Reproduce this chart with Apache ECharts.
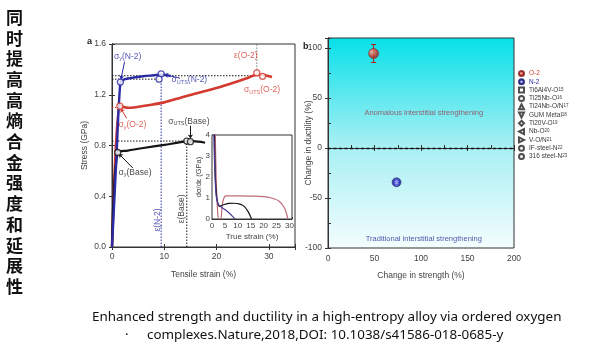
<!DOCTYPE html>
<html>
<head>
<meta charset="utf-8">
<script src="https://cdn.jsdelivr.net/npm/echarts@6/dist/echarts.min.js"></script>
<style>
html, body { margin: 0; padding: 0; background: #fff; }
#main { width: 600px; height: 353px; }
</style>
</head>
<body>
<div id="main"></div>
<script>
// panel a: engineering stress-strain curves (strain %, stress GPa)
var n2Curve = [[0, 0], [0.8, 0.66], [1.6, 1.30], [2.2, 1.318], [3, 1.328], [4.5, 1.338], [6, 1.346], [8, 1.354], [9.4, 1.36], [10.3, 1.356], [11.2, 1.348]];
var o2Curve = [[0, 0], [1.4, 1.12], [2, 1.105], [3, 1.098], [4.5, 1.102], [6.6, 1.115], [10, 1.14], [13, 1.175], [16, 1.21], [19.3, 1.245], [22.5, 1.285], [25.8, 1.33], [27.7, 1.358], [29, 1.356], [30.6, 1.34]];
var baseCurve = [[0, 0], [1.1, 0.745], [3, 0.76], [6, 0.78], [10, 0.805], [14.3, 0.832], [15.5, 0.834], [17.8, 0.822]];
var n2Marks = [[1.6, 1.30], [9.4, 1.365], [9.0, 1.323]];
var o2Marks = [[1.5, 1.11], [27.7, 1.372], [28.8, 1.345]];
var baseMarks = [[1.1, 0.745], [14.3, 0.835], [15.0, 0.83]];

// inset: strain-hardening rate (true strain %, GPa)
var n2Rate = [[0.6, 4.6], [1.0, 2.6], [1.6, 1.1], [2.4, 0.72], [3.2, 0.6], [5, 0.45], [7, 0.25], [8.5, 0.05], [9, 0]];
var o2Rate = [[1.2, 4.6], [1.6, 2.0], [2.2, 0.3], [2.6, 0], [3.4, 0], [3.9, 0.6], [4.6, 1.0], [5.5, 1.1], [10, 1.1], [15, 1.09], [20, 1.07], [23, 1.0], [26, 0.85], [28, 0.55], [29, 0.2], [29.4, 0]];
var baseRate = [[0.9, 4.6], [1.3, 2.0], [2.0, 0.9], [3.0, 0.6], [4.5, 0.68], [6.5, 0.74], [8.5, 0.75], [10.5, 0.72], [12.5, 0.6], [14, 0.35], [15, 0.1], [15.3, 0]];

// panel b: change in strength / ductility (%), with error half-widths
var o2Point = [49, 94.5];
var n2Point = [73.7, -34.3];
var errBars = [[49, 94.5, 0, 9], [73.7, -34.3, 3, 0]];
var legendNames = ['O-2', 'N-2', 'Ti6Al4V-O', 'Ti25Nb-O', 'Ti24Nb-O/N', 'GUM Metal', 'Ti20V-O', 'Nb-O', 'V-O/N', 'IF-steel-N', '316 steel-N'];
var legendRefs = ['', '', '15', '16', '17', '18', '19', '20', '21', '22', '23'];

var BLUE = '#2b2ba6', RED = '#d33a30', BLACK = '#151515';
var triDown = 'path://M0,0L10,0L5,10Z';
var triLeft = 'path://M10,0L10,10L0,5Z';
var triRight = 'path://M0,0L10,5L0,10Z';
var legendShapes = ['circle', 'circle', 'rect', 'circle', 'triangle', triDown, 'diamond', triLeft, triRight, 'circle', 'circle'];

var chart = echarts.init(document.getElementById('main'));

var tickFont = { fontSize: 8.5, color: '#444', fontFamily: 'Liberation Sans' };
var nameFont = { fontSize: 8.5, color: '#444', fontFamily: 'Liberation Sans' };
var sub = { fontSize: 5.5, verticalAlign: 'bottom', padding: [4, 0, 0, 0] };

function mirror(grid, pos, min, max, interval) {
  return {
    gridIndex: grid, type: 'value', position: pos, min: min, max: max, interval: interval,
    axisLine: { show: true, lineStyle: { color: '#333' } },
    axisTick: { inside: true, length: 3, lineStyle: { color: '#333' } },
    axisLabel: { show: false }, splitLine: { show: false }
  };
}

function dotted(data, color) {
  return {
    type: 'line', xAxisIndex: 0, yAxisIndex: 0, data: data, symbol: 'none', z: 1,
    lineStyle: { color: color, width: 1, type: [1.5, 1.5] }, silent: true
  };
}

function hollow(data, color) {
  return {
    type: 'scatter', xAxisIndex: 0, yAxisIndex: 0, data: data, symbol: 'circle', symbolSize: 6, z: 5,
    itemStyle: { color: '#fff', borderColor: color, borderWidth: 1.3 }
  };
}

function note(x, y, text, color, rotate) {
  return { value: [x, y], name: text, label: { color: color, rotate: rotate || 0 } };
}

var series = [
  // reference dotted lines
  dotted([[0, 1.35], [27.7, 1.35]], BLACK),
  dotted([[0, 1.323], [9.0, 1.323]], BLACK),
  dotted([[0, 0.835], [14.3, 0.835]], BLACK),
  dotted([[9.4, 0], [9.4, 1.365]], BLUE),
  dotted([[14.3, 0], [14.3, 0.835]], BLACK),
  dotted([[27.7, 1.372], [27.7, 1.6]], '#777'),
  dotted([[0, 1.10], [1.5, 1.10]], RED),
  { type: 'line', xAxisIndex: 0, yAxisIndex: 0, data: o2Curve, symbol: 'none', smooth: 0.3, z: 2, lineStyle: { color: RED, width: 2.6 } },
  { type: 'line', xAxisIndex: 0, yAxisIndex: 0, data: baseCurve, symbol: 'none', smooth: 0.3, z: 2, lineStyle: { color: BLACK, width: 2.2 } },
  { type: 'line', xAxisIndex: 0, yAxisIndex: 0, data: n2Curve, symbol: 'none', smooth: 0.3, z: 3, lineStyle: { color: BLUE, width: 2.4 } },
  hollow(n2Marks, BLUE),
  hollow(o2Marks, RED),
  hollow(baseMarks, BLACK),
  {
    type: 'lines', coordinateSystem: 'cartesian2d', xAxisIndex: 0, yAxisIndex: 0, z: 4,
    symbol: ['none', 'arrow'], symbolSize: 4,
    data: [
      { coords: [[15.0, 0.955], [15.0, 0.855]], lineStyle: { color: BLACK } },
      { coords: [[4.0, 0.622], [1.3, 0.735]], lineStyle: { color: BLACK } },
      { coords: [[2.4, 1.46], [1.7, 1.32]], lineStyle: { color: BLUE } },
      { coords: [[2.8, 1.014], [1.66, 1.093]], lineStyle: { color: RED } },
      { coords: [[13.0, 1.33], [10.0, 1.36]], lineStyle: { color: BLUE } }
    ],
    lineStyle: { width: 1, opacity: 1 }
  },
  {
    type: 'scatter', xAxisIndex: 0, yAxisIndex: 0, symbolSize: 0, z: 6, silent: true,
    label: {
      show: true, position: 'inside', fontFamily: 'Liberation Sans',
      formatter: function (p) { return p.name; },
      rich: { g: { fontSize: 8.5 }, s: sub }
    },
    data: [
      note(3.0, 1.50, '{g|σ}{s|y}{g|(N-2)}', BLUE),
      note(14.8, 1.316, '{g|σ}{s|UTS}{g|(N-2)}', BLUE),
      note(25.6, 1.505, '{g|ε(O-2)}', RED),
      note(28.7, 1.237, '{g|σ}{s|UTS}{g|(O-2)}', RED),
      note(3.9, 0.961, '{g|σ}{s|y}{g|(O-2)}', RED),
      note(14.7, 0.99, '{g|σ}{s|UTS}{g|(Base)}', BLACK),
      note(4.4, 0.585, '{g|σ}{s|y}{g|(Base)}', BLACK),
      note(8.66, 0.213, '{g|ε(N-2)}', BLUE, 90),
      note(13.3, 0.30, '{g|ε(Base)}', BLACK, 90)
    ]
  },
  // inset
  { type: 'line', xAxisIndex: 2, yAxisIndex: 2, data: o2Rate, symbol: 'none', smooth: 0.3, z: 3, lineStyle: { color: '#c06a78', width: 1.2 } },
  { type: 'line', xAxisIndex: 2, yAxisIndex: 2, data: baseRate, symbol: 'none', smooth: 0.3, z: 3, lineStyle: { color: BLACK, width: 1.2 } },
  { type: 'line', xAxisIndex: 2, yAxisIndex: 2, data: n2Rate, symbol: 'none', smooth: 0.3, z: 3, lineStyle: { color: '#4b3b98', width: 1.2 } },
  // panel b error bars
  {
    type: 'custom', xAxisIndex: 3, yAxisIndex: 3, data: errBars, z: 3,
    renderItem: function (params, api) {
      var x = api.value(0), y = api.value(1), ex = api.value(2), ey = api.value(3);
      var col = params.dataIndex === 0 ? '#b02020' : '#1a1a90';
      var kids = [], cap = 2.5;
      var st = { stroke: col, lineWidth: 1 };
      if (ey > 0) {
        var t = api.coord([x, y + ey]), b = api.coord([x, y - ey]);
        kids.push({ type: 'line', shape: { x1: t[0], y1: t[1], x2: b[0], y2: b[1] }, style: st });
        kids.push({ type: 'line', shape: { x1: t[0] - cap, y1: t[1], x2: t[0] + cap, y2: t[1] }, style: st });
        kids.push({ type: 'line', shape: { x1: b[0] - cap, y1: b[1], x2: b[0] + cap, y2: b[1] }, style: st });
      }
      if (ex > 0) {
        var l = api.coord([x - ex, y]), r = api.coord([x + ex, y]);
        kids.push({ type: 'line', shape: { x1: l[0], y1: l[1], x2: r[0], y2: r[1] }, style: st });
        kids.push({ type: 'line', shape: { x1: l[0], y1: l[1] - cap, x2: l[0], y2: l[1] + cap }, style: st });
        kids.push({ type: 'line', shape: { x1: r[0], y1: r[1] - cap, x2: r[0], y2: r[1] + cap }, style: st });
      }
      return { type: 'group', children: kids };
    }
  }
];

legendNames.forEach(function (name, i) {
  var s = {
    type: 'scatter', name: name, xAxisIndex: 3, yAxisIndex: 3, symbol: legendShapes[i], symbolSize: 5, z: 4,
    data: [], itemStyle: { color: '#fff', borderColor: '#222', borderWidth: 1.1 }
  };
  if (i === 0) {
    s.data = [o2Point];
    s.symbolSize = 10;
    s.itemStyle = {
      color: { type: 'radial', x: 0.35, y: 0.35, r: 0.75, colorStops: [{ offset: 0, color: '#ffb4a4' }, { offset: 0.5, color: '#e23a2a' }, { offset: 1, color: '#8a1410' }] },
      borderColor: '#7a1010', borderWidth: 0.6
    };
    s.markLine = {
      silent: true, symbol: 'none', label: { show: false },
      lineStyle: { color: '#111', type: [3, 2.5], width: 1.3 },
      data: [{ yAxis: 0 }]
    };
  } else if (i === 1) {
    s.data = [n2Point];
    s.symbolSize = 9;
    s.itemStyle = {
      color: { type: 'radial', x: 0.5, y: 0.5, r: 0.6, colorStops: [{ offset: 0, color: '#c8ccff' }, { offset: 0.45, color: '#3b3bd0' }, { offset: 1, color: '#10106a' }] },
      borderColor: '#10106a', borderWidth: 0.6
    };
  }
  series.push(s);
});

// panel b region texts
series.push({
  type: 'scatter', xAxisIndex: 3, yAxisIndex: 3, symbolSize: 0, z: 6, silent: true,
  label: { show: true, position: 'inside', fontSize: 7.5, fontFamily: 'Liberation Sans', formatter: function (p) { return p.name; } },
  data: [
    { value: [103, 35], name: 'Anomalous interstitial strengthening', label: { color: '#9a3a4c' } },
    { value: [103, -91], name: 'Traditional interstitial strengthening', label: { color: '#2c2c96' } }
  ]
});

var option = {
  animation: false,
  backgroundColor: '#fff',
  grid: [
    { left: 112, top: 44, width: 183, height: 203, show: true, borderColor: '#333', borderWidth: 1, backgroundColor: 'transparent' },
    { left: 212, top: 135, width: 80, height: 84, show: true, borderColor: '#333', borderWidth: 1, backgroundColor: '#fff', z: 3 },
    {
      left: 328, top: 38, width: 186, height: 210, show: true, borderColor: '#333', borderWidth: 1,
      backgroundColor: { type: 'linear', x: 0, y: 0, x2: 0, y2: 1, colorStops: [{ offset: 0, color: '#06e0e9' }, { offset: 0.5, color: '#a4eff3' }, { offset: 1, color: '#f4fdfe' }] }
    }
  ],
  legend: {
    orient: 'vertical', left: 513, top: 65, itemWidth: 5, itemHeight: 5, itemGap: 1.3,
    selectedMode: false,
    data: legendNames.map(function (n, i) {
      return { name: n, textStyle: { color: i === 0 ? RED : (i === 1 ? BLUE : '#3a3a3a') } };
    }),
    formatter: function (name) {
      var i = legendNames.indexOf(name);
      return legendRefs[i] ? '{t|' + name + '}{s|' + legendRefs[i] + '}' : '{t|' + name + '}';
    },
    textStyle: {
      fontSize: 6.5, lineHeight: 6, fontFamily: 'Liberation Sans', padding: 0,
      rich: { t: { fontSize: 6.5, lineHeight: 6 }, s: { fontSize: 4.5, lineHeight: 6, verticalAlign: 'top' } }
    }
  },
  xAxis: [
    {
      gridIndex: 0, type: 'value', min: 0, max: 35, interval: 10,
      name: 'Tensile strain (%)', nameLocation: 'middle', nameGap: 23, nameMoveOverlap: false, nameTextStyle: nameFont,
      axisLine: { lineStyle: { color: '#333' } }, axisTick: { inside: true, length: 3, lineStyle: { color: '#333' } },
      axisLabel: Object.assign({ margin: 5, formatter: function (v) { return v % 10 === 0 ? v : ''; } }, tickFont),
      splitLine: { show: false }
    },
    mirror(0, 'top', 0, 35, 10),
    {
      gridIndex: 1, type: 'value', min: 0, max: 31, interval: 5,
      name: 'True strain (%)', nameLocation: 'middle', nameGap: 14, nameMoveOverlap: false, nameTextStyle: { fontSize: 8, color: '#444', fontFamily: 'Liberation Sans' },
      axisLine: { lineStyle: { color: '#333' } }, axisTick: { inside: true, length: 2, lineStyle: { color: '#333' } },
      axisLabel: { margin: 3, fontSize: 8, color: '#444', fontFamily: 'Liberation Sans', formatter: function (v) { return v % 5 === 0 ? v : ''; } },
      splitLine: { show: false }
    },
    {
      gridIndex: 2, type: 'value', min: 0, max: 200, interval: 50,
      name: 'Change in strength (%)', nameLocation: 'middle', nameGap: 23, nameMoveOverlap: false, nameTextStyle: nameFont,
      axisLine: { lineStyle: { color: '#333' } }, axisTick: { inside: true, length: 3, lineStyle: { color: '#333' } },
      minorTick: { show: true, splitNumber: 2, length: 3, lineStyle: { color: '#333' } },
      axisLabel: Object.assign({ margin: 6 }, tickFont),
      splitLine: { show: false }
    },
    mirror(2, 'top', 0, 200, 50)
  ],
  yAxis: [
    {
      gridIndex: 0, type: 'value', min: 0, max: 1.6, interval: 0.4,
      name: 'Stress (GPa)', nameLocation: 'middle', nameGap: 23, nameMoveOverlap: false, nameTextStyle: nameFont,
      axisLine: { lineStyle: { color: '#333' } }, axisTick: { inside: true, length: 3, lineStyle: { color: '#333' } },
      axisLabel: Object.assign({ margin: 6, formatter: function (v) { return v.toFixed(1); } }, tickFont),
      splitLine: { show: false }
    },
    mirror(0, 'right', 0, 1.6, 0.4),
    {
      gridIndex: 1, type: 'value', min: 0, max: 4, interval: 1,
      name: 'dσ/dε (GPa)', nameLocation: 'middle', nameGap: 9, nameMoveOverlap: false, nameTextStyle: { fontSize: 7.5, color: '#444', fontFamily: 'Liberation Sans' },
      axisLine: { lineStyle: { color: '#333' } }, axisTick: { inside: true, length: 2, lineStyle: { color: '#333' } },
      axisLabel: { margin: 2, fontSize: 8, color: '#444', fontFamily: 'Liberation Sans' },
      splitLine: { show: false }
    },
    {
      gridIndex: 2, type: 'value', min: -100, max: 110, interval: 50,
      name: 'Change in ductility (%)', nameLocation: 'middle', nameGap: 15, nameMoveOverlap: false, nameTextStyle: nameFont,
      axisLine: { lineStyle: { color: '#333' } }, axisTick: { inside: true, length: 3, lineStyle: { color: '#333' } },
      minorTick: { show: true, splitNumber: 2, length: 3, lineStyle: { color: '#333' } },
      axisLabel: Object.assign({ margin: 6, formatter: function (v) { return v % 50 === 0 ? v : ''; } }, tickFont),
      splitLine: { show: false }
    },
    mirror(2, 'right', -100, 110, 50)
  ],
  graphic: [
    {
      type: 'text', left: 6, top: 7,
      style: { text: '同\n时\n提\n高\n高\n熵\n合\n金\n强\n度\n和\n延\n展\n性', fontSize: 17, lineHeight: 20.7, fontWeight: 'bold', fill: '#111', fontFamily: 'Noto Sans CJK SC' }
    },
    { type: 'text', left: 87, top: 37, style: { text: 'a', fontSize: 9, fontWeight: 'bold', fill: '#222', fontFamily: 'Liberation Sans' } },
    { type: 'text', left: 303, top: 42, style: { text: 'b', fontSize: 9, fontWeight: 'bold', fill: '#222', fontFamily: 'Liberation Sans' } },
    { type: 'text', left: 92, top: 311, style: { text: 'Enhanced strength and ductility in a high-entropy alloy via ordered oxygen', fontSize: 13.45, fill: '#111', fontFamily: 'Noto Sans' } },
    { type: 'text', left: 125, top: 329, style: { text: '·', fontSize: 13.4, fill: '#111', fontFamily: 'Noto Sans' } },
    { type: 'text', left: 147, top: 329, style: { text: 'complexes.Nature,2018,DOI: 10.1038/s41586-018-0685-y', fontSize: 13.4, fill: '#111', fontFamily: 'Noto Sans' } }
  ],
  series: series
};

chart.setOption(option);
</script>
</body>
</html>
